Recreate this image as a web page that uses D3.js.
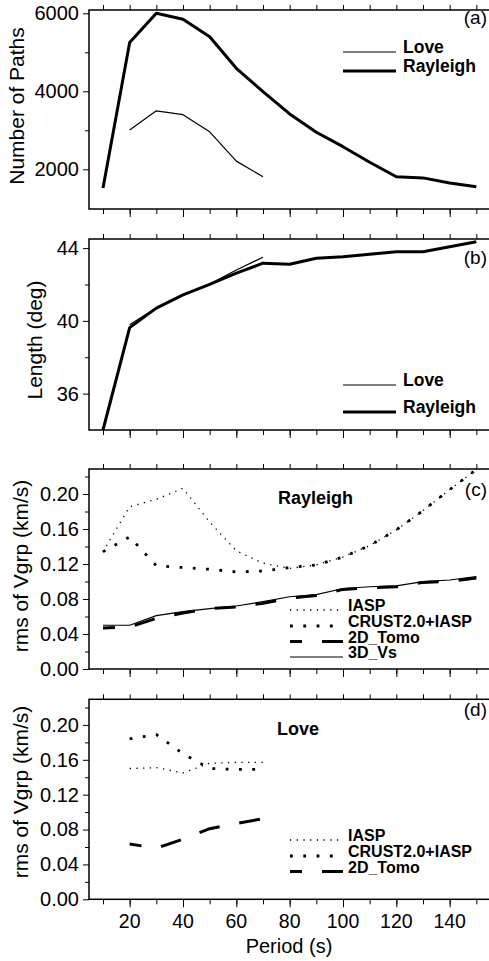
<!DOCTYPE html>
<html>
<meta charset="utf-8">
<style>
  body { margin: 0; background: #fff; }
  text { font-family: "Liberation Sans", Arial, sans-serif; fill: #000; }
</style>
<script src="https://d3js.org/d3.v7.min.js"></script>
<body>
<script>
  var svgWidth = 489, svgHeight = 961;

  // periods (s)
  var periods = [10, 20, 30, 40, 50, 60, 70, 80, 90, 100, 110, 120, 130, 140, 150];
  var periodsLove = [20, 30, 40, 50, 60, 70];
  var periodTicks = [20, 40, 60, 80, 100, 120, 140];

  // (a) number of paths
  var pathsRayleigh = [1520, 5250, 6000, 5850, 5400, 4590, 3990, 3420, 2950, 2580, 2180, 1810, 1780, 1650, 1550];
  var pathsLove = [3010, 3500, 3400, 2960, 2210, 1810];

  // (b) mean path length (deg)
  var lengthRayleigh = [34.0, 39.63, 40.70, 41.43, 42.01, 42.62, 43.17, 43.11, 43.44, 43.53, 43.66, 43.80, 43.80, 44.07, 44.35];
  var lengthLove = [39.78, 40.72, 41.45, 42.02, 42.80, 43.50];

  // (c) rms of Vgrp, Rayleigh (km/s)
  var rayIASP = [0.134, 0.1855, 0.194, 0.2065, 0.168, 0.135, 0.121, 0.115, 0.119, 0.128, 0.141, 0.159, 0.181, 0.205, 0.228];
  var rayCrust = [0.134, 0.151, 0.118, 0.116, 0.114, 0.111, 0.112, 0.116, 0.119, 0.128, 0.141, 0.159, 0.181, 0.205, 0.228];
  var rayTomo = [0.047, 0.048, 0.058, 0.064, 0.069, 0.071, 0.075, 0.081, 0.084, 0.091, 0.093, 0.094, 0.099, 0.100, 0.104];
  var ray3D = [0.050, 0.050, 0.061, 0.0655, 0.069, 0.072, 0.077, 0.0826, 0.085, 0.092, 0.094, 0.095, 0.0998, 0.1017, 0.1055];

  // (d) rms of Vgrp, Love (km/s)
  var loveIASP = [0.150, 0.151, 0.145, 0.156, 0.157, 0.157];
  var loveCrust = [0.184, 0.189, 0.167, 0.150, 0.149, 0.149];
  var loveTomo = [0.0635, 0.0585, 0.069, 0.081, 0.087, 0.0925];

  var rmsTicks = [0, 0.04, 0.08, 0.12, 0.16, 0.20];
  var rmsMinor = [0.02, 0.06, 0.10, 0.14, 0.18, 0.22];

  // line styles
  var styles = {
    thin:  { width: 1.2, dash: null },
    thick: { width: 3, dash: null },
    iasp:  { width: 1.3, dash: "1.3,5.4" },
    crust: { width: 2.8, dash: "2.8,10.5" },
    tomo:  { width: 3, dash: "21,20", offset: 9 },
    vs:    { width: 1.2, dash: null }
  };

  var svg = d3.select("body")
    .append("svg")
    .attr("width", svgWidth)
    .attr("height", svgHeight);

  var x = d3.scaleLinear().domain([4.75, 155.5]).range([89, 491]);
  var minorPeriods = d3.range(10, 151, 10);

  function styleLine(sel, s) {
    sel.attr("fill", "none").attr("stroke", "#000")
      .attr("stroke-width", s.width)
      .attr("stroke-linejoin", "round");
    if (s.dash) sel.attr("stroke-dasharray", s.dash);
    if (s.offset) sel.attr("stroke-dashoffset", s.offset);
    return sel;
  }

  function panel(top, bottom, domain, majors, minors, fmt) {
    var y = d3.scaleLinear().domain(domain).range([bottom, top]);
    var g = svg.append("g");

    var left = g.append("g")
      .attr("transform", "translate(" + x.range()[0] + ",0)")
      .call(d3.axisLeft(y).tickValues(majors).tickSize(6).tickPadding(4).tickFormat(fmt));
    left.attr("font-size", 20).attr("font-family", "Liberation Sans, Arial, sans-serif");
    left.select(".domain").remove();

    var leftMinor = g.append("g")
      .attr("transform", "translate(" + x.range()[0] + ",0)")
      .call(d3.axisLeft(y).tickValues(minors).tickSize(4).tickFormat(""));
    leftMinor.select(".domain").remove();

    var topAx = g.append("g")
      .attr("transform", "translate(0," + top + ")")
      .call(d3.axisTop(x).tickValues(minorPeriods).tickSize(5).tickFormat(""));
    topAx.select(".domain").remove();

    var botAx = g.append("g")
      .attr("transform", "translate(0," + bottom + ")")
      .call(d3.axisBottom(x).tickValues(minorPeriods).tickSize(5).tickFormat(""));
    botAx.select(".domain").remove();

    var botMajor = g.append("g")
      .attr("transform", "translate(0," + bottom + ")")
      .call(d3.axisBottom(x).tickValues(periodTicks).tickSize(8).tickFormat(""));
    botMajor.select(".domain").remove();

    g.append("rect")
      .attr("x", x.range()[0]).attr("y", top)
      .attr("width", x.range()[1] - x.range()[0])
      .attr("height", bottom - top)
      .attr("fill", "none").attr("stroke", "#000").attr("stroke-width", 1.5);

    return { g: g, y: y, top: top, bottom: bottom };
  }

  function drawSeries(p, xs, vals, s) {
    var line = d3.line()
      .x(function(d, i) { return x(xs[i]); })
      .y(function(d) { return p.y(d); });
    styleLine(p.g.append("path").datum(vals).attr("d", line), s);
  }

  function legend(p, x0, x1, tx, items, size) {
    items.forEach(function(it) {
      styleLine(p.g.append("line")
        .attr("x1", x0).attr("x2", x1)
        .attr("y1", it.y).attr("y2", it.y), it.style);
      p.g.append("text")
        .attr("x", tx).attr("y", it.y + 1)
        .attr("font-weight", "bold")
        .attr("font-size", size)
        .text(it.label);
    });
  }

  function yLabel(txt, bx, cy) {
    svg.append("text")
      .attr("transform", "translate(" + bx + "," + cy + ") rotate(-90)")
      .attr("text-anchor", "middle")
      .attr("font-size", 21)
      .text(txt);
  }

  function tag(p, txt, by) {
    p.g.append("text")
      .attr("x", 487).attr("y", by)
      .attr("text-anchor", "end")
      .attr("font-size", 19)
      .text(txt);
  }

  // (a)
  var pa = panel(10, 209, [982, 6085], [2000, 4000, 6000], [3000, 5000], d3.format("d"));
  drawSeries(pa, periods, pathsRayleigh, styles.thick);
  drawSeries(pa, periodsLove, pathsLove, styles.thin);
  legend(pa, 343, 396, 403, [
    { label: "Love", y: 52, style: styles.thin },
    { label: "Rayleigh", y: 71, style: styles.thick }
  ], 17.5);
  tag(pa, "(a)", 24);
  yLabel("Number of Paths", 24, 106);

  // (b)
  var pb = panel(239, 430, [34, 44.5], [36, 40, 44], [38, 42], d3.format("d"));
  drawSeries(pb, periodsLove, lengthLove, styles.thin);
  drawSeries(pb, periods, lengthRayleigh, styles.thick);
  legend(pb, 343, 396, 403, [
    { label: "Love", y: 385, style: styles.thin },
    { label: "Rayleigh", y: 412, style: styles.thick }
  ], 17.5);
  tag(pb, "(b)", 264);
  yLabel("Length (deg)", 42, 340);

  // (c)
  var pc = panel(469, 669, [0, 0.2286], rmsTicks, rmsMinor, d3.format(".2f"));
  drawSeries(pc, periods, rayIASP, styles.iasp);
  drawSeries(pc, periods, rayCrust, styles.crust);
  drawSeries(pc, periods, rayTomo, styles.tomo);
  drawSeries(pc, periods, ray3D, styles.vs);
  legend(pc, 290, 343, 348, [
    { label: "IASP", y: 610, style: styles.iasp },
    { label: "CRUST2.0+IASP", y: 626, style: styles.crust },
    { label: "2D_Tomo", y: 641.5, style: styles.tomo },
    { label: "3D_Vs", y: 657, style: styles.vs }
  ], 16);
  pc.g.append("text").attr("x", 278).attr("y", 504)
    .attr("font-weight", "bold").attr("font-size", 18).text("Rayleigh");
  tag(pc, "(c)", 496);
  yLabel("rms of Vgrp (km/s)", 28, 566);

  // (d)
  var pd = panel(699.3, 899.3, [0, 0.2294], rmsTicks, rmsMinor, d3.format(".2f"));
  drawSeries(pd, periodsLove, loveIASP, styles.iasp);
  drawSeries(pd, periodsLove, loveCrust, styles.crust);
  drawSeries(pd, periodsLove, loveTomo, styles.tomo);
  legend(pd, 290, 343, 348, [
    { label: "IASP", y: 840, style: styles.iasp },
    { label: "CRUST2.0+IASP", y: 856, style: styles.crust },
    { label: "2D_Tomo", y: 871.5, style: styles.tomo }
  ], 16);
  pd.g.append("text").attr("x", 277).attr("y", 735)
    .attr("font-weight", "bold").attr("font-size", 18).text("Love");
  tag(pd, "(d)", 716);
  yLabel("rms of Vgrp (km/s)", 28, 792);

  // period labels under (d)
  svg.append("g").selectAll("text")
    .data(periodTicks)
    .enter()
    .append("text")
    .attr("x", function(d) { return x(d); })
    .attr("y", 928)
    .attr("text-anchor", "middle")
    .attr("font-size", 19.5)
    .text(function(d) { return d; });

  svg.append("text")
    .attr("x", 289).attr("y", 953)
    .attr("text-anchor", "middle")
    .attr("font-size", 20)
    .text("Period (s)");
</script>
</body>
</html>
